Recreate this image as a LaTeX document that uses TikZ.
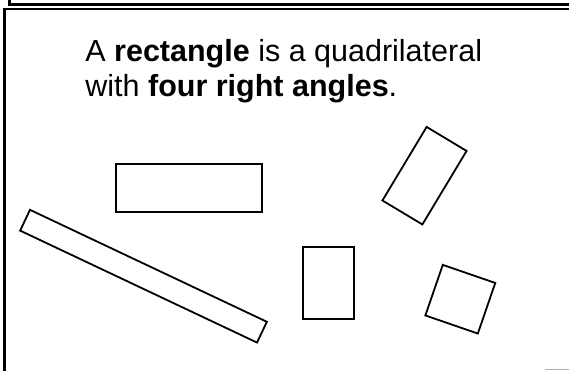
\documentclass[tikz,border=0pt]{standalone}
\usepackage{fontspec}
\setmainfont{Liberation Sans}
\begin{document}
\begin{tikzpicture}[x=1pt,y=1pt,thick,box/.style={rectangle,draw,line width=1.8pt,inner sep=0pt,minimum width=#1},frame/.style={line width=2.6pt}]
            \useasboundingbox (0,0) rectangle (569,370);

            % frames
            \draw[frame] (9.5,372) -- (9.5,365.5) -- (572,365.5);
            \draw[frame] (572,361) -- (4.5,361) -- (4.5,-2);
            \draw[gray!60, line width=1.2pt] (545,0.8) -- (569,0.8);

            \node [anchor=base west, inner sep=0pt, align=left, font=\fontsize{30.5}{35}\selectfont](def) at (85,273){A \textbf{rectangle} is a quadrilateral\\with \textbf{four right angles}.};

            \node [box=146, minimum height=48](flat) at (189,182){};
            \node [box=262, minimum height=23, rotate=-25.3](long) at (143.5,93.8){};
            \node [box=51, minimum height=72](tall) at (328.5,87){};
            \node [box=46.6, minimum height=85.8, rotate=-31](tilted) at (424.5,194.3){};
            \node [box=55.5, minimum height=53.5, rotate=-19](square) at (460.3,70.8){};
        \end{tikzpicture}
\end{document}
